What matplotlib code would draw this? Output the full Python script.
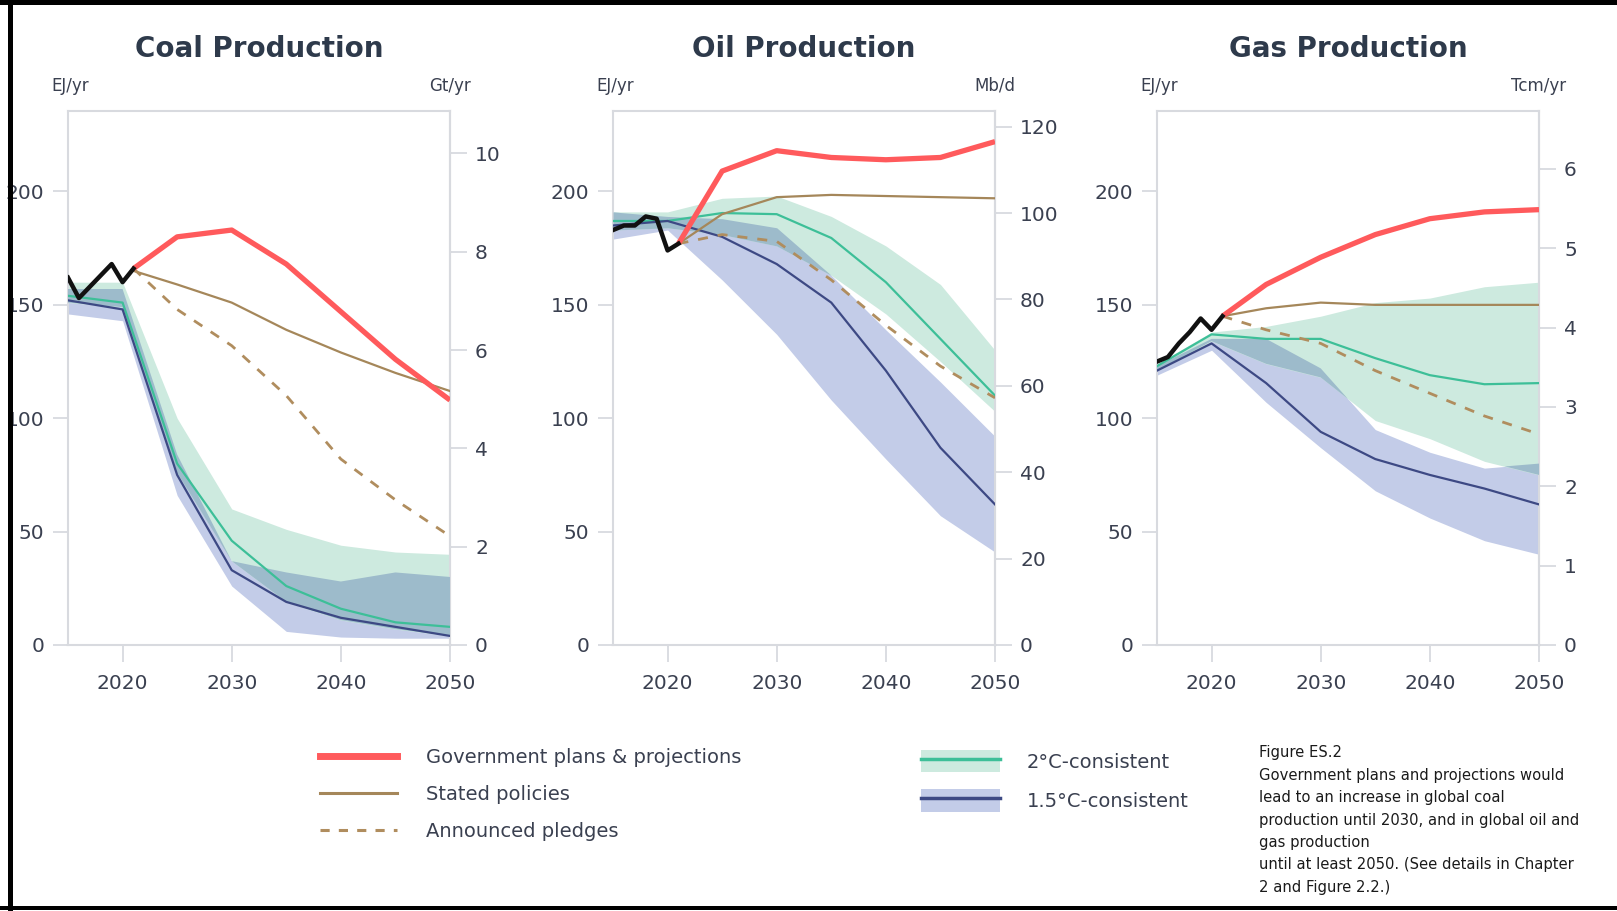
import matplotlib
matplotlib.use("Agg")
import matplotlib.pyplot as plt
import numpy as np
from matplotlib.lines import Line2D
from matplotlib.patches import Patch, Rectangle
from matplotlib.colors import to_rgb

plt.rcParams["font.family"] = ["DejaVu Sans"]

# ---- data (EJ/yr) ----
hist_years = [2015, 2016, 2017, 2018, 2019, 2020, 2021]
proj_years = [2021, 2025, 2030, 2035, 2040, 2045, 2050]
band_years = [2015, 2020, 2025, 2030, 2035, 2040, 2045, 2050]

coal_hist = [162, 153, 158, 163, 168, 160, 166]
coal_gov = [166, 180, 183, 168, 147, 126, 108]
coal_stated = [165, 159, 151, 139, 129, 120, 112]
coal_pledges = [166, 148, 132, 110, 82, 64, 48]
coal_2c = [154, 151, 80, 46, 26, 16, 10, 8]
coal_2c_lo = [151, 149, 76, 37, 19, 11, 7, 4]
coal_2c_hi = [160, 160, 100, 60, 51, 44, 41, 40]
coal_15c = [152, 148, 75, 33, 19, 12, 8, 4]
coal_15c_lo = [146, 143, 66, 26, 6, 3.5, 3, 3]
coal_15c_hi = [157, 157, 84, 37, 32, 28, 32, 30]

oil_hist = [183, 185, 185, 189, 188, 174, 177]
oil_gov = [177, 209, 218, 215, 214, 215, 222]
oil_stated = [177, 190, 197.5, 198.5, 198, 197.5, 197]
oil_pledges = [177, 181, 178, 161, 141, 123, 109]
oil_2c = [187, 187, 190.5, 190, 179.5, 160, 135, 110]
oil_2c_lo = [183, 184, 181, 176, 163, 146, 125, 103]
oil_2c_hi = [191, 191, 197, 198, 189, 176, 159, 130]
oil_15c = [185, 187, 180, 168, 151, 121, 87, 62]
oil_15c_lo = [179, 183, 161, 137, 108, 82, 57, 41]
oil_15c_hi = [191, 189, 188, 184, 163, 139, 116, 92]

gas_hist = [125, 127, 133, 138, 144, 139, 145]
gas_gov = [145, 159, 171, 181, 188, 191, 192]
gas_stated = [145, 148.5, 151, 150, 150, 150, 150]
gas_pledges = [145, 139, 133, 121, 111, 101, 93]
gas_2c = [123, 137, 135, 135, 126.5, 119, 115, 115.5]
gas_2c_lo = [121, 134, 124, 118, 99, 91, 81, 75]
gas_2c_hi = [124, 138, 140.5, 145, 151, 153, 158, 160]
gas_15c = [121, 133, 115.5, 94, 82, 75, 69, 62]
gas_15c_lo = [119, 130, 107, 87, 68, 56, 46, 40]
gas_15c_hi = [123, 135, 135, 122, 95, 85, 78, 80]

# secondary units: EJ per unit
coal_factor = 21.68   # Gt/yr
oil_factor = 1.905    # Mb/d
gas_factor = 35.0     # Tcm/yr

left_ticks = [0, 50, 100, 150, 200]
year_ticks = [2020, 2030, 2040, 2050]

# ---- style ----
RED = "#ff5a5c"
STATED = "#a5875a"
PLEDGE = "#b08d5e"
GREEN = "#3dbf98"
GREEN_FILL = "#cdeadf"
NAVY = "#3d4984"
BLUE_FILL = "#c3cce8"
OVERLAP = tuple(a * b for a, b in zip(to_rgb(GREEN_FILL), to_rgb(BLUE_FILL)))
SPINE = "#d8dadf"
TXT = "#3a4050"
TITLE = "#2e3a4b"

W, H = 1617, 911
fig = plt.figure(figsize=(W / 100, H / 100), dpi=100)


def px_rect(x0, y0, x1, y1):
    return [x0 / W, 1 - y1 / H, (x1 - x0) / W, (y1 - y0) / H]


def draw_panel(left, title, runit, factor, rticks, hist, gov, stated, pledges,
               c2, c2_lo, c2_hi, c15, c15_lo, c15_hi):
    right = left + 382
    ax = fig.add_axes(px_rect(left, 111, right, 645))
    ax.set_xlim(2015, 2050)
    ax.set_ylim(0, 235.5)

    lo = np.maximum(c2_lo, c15_lo)
    hi = np.minimum(c2_hi, c15_hi)
    ax.fill_between(band_years, c15_lo, c15_hi, color=BLUE_FILL, lw=0, zorder=1)
    ax.fill_between(band_years, c2_lo, c2_hi, color=GREEN_FILL, lw=0, zorder=2)
    ax.fill_between(band_years, lo, hi, where=hi > lo, interpolate=True,
                    color=OVERLAP, lw=0, zorder=3)

    ax.plot(band_years, c2, color=GREEN, lw=1.6, zorder=4)
    ax.plot(band_years, c15, color=NAVY, lw=1.6, zorder=4)
    ax.plot(proj_years, stated, color=STATED, lw=1.6, zorder=5)
    ax.plot(proj_years, pledges, color=PLEDGE, lw=2.0, dashes=(3.6, 3.6), zorder=5)
    ax.plot(proj_years, gov, color=RED, lw=3.8, zorder=6, solid_capstyle="butt")
    ax.plot(hist_years, hist, color="#111111", lw=3.2, zorder=7)

    for s in ax.spines.values():
        s.set_color(SPINE)
        s.set_linewidth(1.5)
    ax.set_xticks(year_ticks)
    ax.set_yticks(left_ticks)
    ax.tick_params(axis="x", length=12, width=1.3, color=SPINE, labelsize=14.5,
                   labelcolor=TXT, pad=9)
    ax.tick_params(axis="y", length=11, width=1.3, color=SPINE, labelsize=14.5,
                   labelcolor=TXT, pad=6)

    sec = ax.secondary_yaxis("right", functions=(lambda v: v / factor,
                                                  lambda v: v * factor))
    sec.set_yticks(rticks)
    sec.spines["right"].set_color(SPINE)
    sec.spines["right"].set_linewidth(1.5)
    sec.tick_params(axis="y", length=12, width=1.3, color=SPINE, labelsize=14.5,
                    labelcolor=TXT, pad=6)

    cx = (left + right) / 2
    fig.text(cx / W, 1 - 49 / H, title, ha="center", va="center",
             fontsize=20, fontweight="bold", color=TITLE)
    fig.text((left + 2) / W, 1 - 86 / H, "EJ/yr", ha="center", va="center",
             fontsize=12, color=TXT)
    fig.text(right / W, 1 - 86 / H, runit, ha="center", va="center",
             fontsize=12, color=TXT)
    return ax


draw_panel(68, "Coal Production", "Gt/yr", coal_factor, [0, 2, 4, 6, 8, 10],
           coal_hist, coal_gov, coal_stated, coal_pledges,
           coal_2c, coal_2c_lo, coal_2c_hi, coal_15c, coal_15c_lo, coal_15c_hi)
draw_panel(613, "Oil Production", "Mb/d", oil_factor, [0, 20, 40, 60, 80, 100, 120],
           oil_hist, oil_gov, oil_stated, oil_pledges,
           oil_2c, oil_2c_lo, oil_2c_hi, oil_15c, oil_15c_lo, oil_15c_hi)
draw_panel(1157, "Gas Production", "Tcm/yr", gas_factor, [0, 1, 2, 3, 4, 5, 6],
           gas_hist, gas_gov, gas_stated, gas_pledges,
           gas_2c, gas_2c_lo, gas_2c_hi, gas_15c, gas_15c_lo, gas_15c_hi)

# ---- legends ----
h1 = [Line2D([], [], color=RED, lw=5),
      Line2D([], [], color=STATED, lw=2.2),
      Line2D([], [], color=PLEDGE, lw=2.2, dashes=(3, 3))]
l1 = ["Government plans & projections", "Stated policies", "Announced pledges"]
leg1 = fig.legend(h1, l1, loc="upper left", bbox_to_anchor=(320 / W, 1 - 748 / H),
                  frameon=False, fontsize=14, handlelength=3.96, handletextpad=1.5,
                  labelspacing=0.92, borderpad=0, borderaxespad=0)
for t in leg1.get_texts():
    t.set_color(TXT)

h2 = [(Patch(facecolor=GREEN_FILL, edgecolor="none"), Line2D([], [], color=GREEN, lw=2.5)),
      (Patch(facecolor=BLUE_FILL, edgecolor="none"), Line2D([], [], color=NAVY, lw=2.5))]
l2 = ["2°C-consistent", "1.5°C-consistent"]
leg2 = fig.legend(h2, l2, loc="upper left", bbox_to_anchor=(921 / W, 1 - 750 / H),
                  frameon=False, fontsize=14, handlelength=4.05, handleheight=1.4,
                  handletextpad=1.4, labelspacing=0.86, borderpad=0, borderaxespad=0)
for t in leg2.get_texts():
    t.set_color(TXT)

# ---- caption ----
caption = ["Figure ES.2",
           "Government plans and projections would",
           "lead to an increase in global coal",
           "production until 2030, and in global oil and",
           "gas production",
           "until at least 2050. (See details in Chapter",
           "2 and Figure 2.2.)"]
for i, line in enumerate(caption):
    fig.text(1259 / W, 1 - (753 + i * 22.4) / H, line, ha="left", va="center",
             fontsize=10.6, color="#1a1a1a")

# ---- black frame ----
frame = [Rectangle((0, 1 - 5 / H), 1, 5 / H),
         Rectangle((8 / W, 0), 5 / W, 1),
         Rectangle((0, 1 - 910 / H), 1, 4 / H)]
for r in frame:
    r.set_transform(fig.transFigure)
    r.set_facecolor("black")
    r.set_edgecolor("none")
    r.set_zorder(20)
    fig.patches.append(r)

fig.savefig("out.png", dpi=100, facecolor="white")
